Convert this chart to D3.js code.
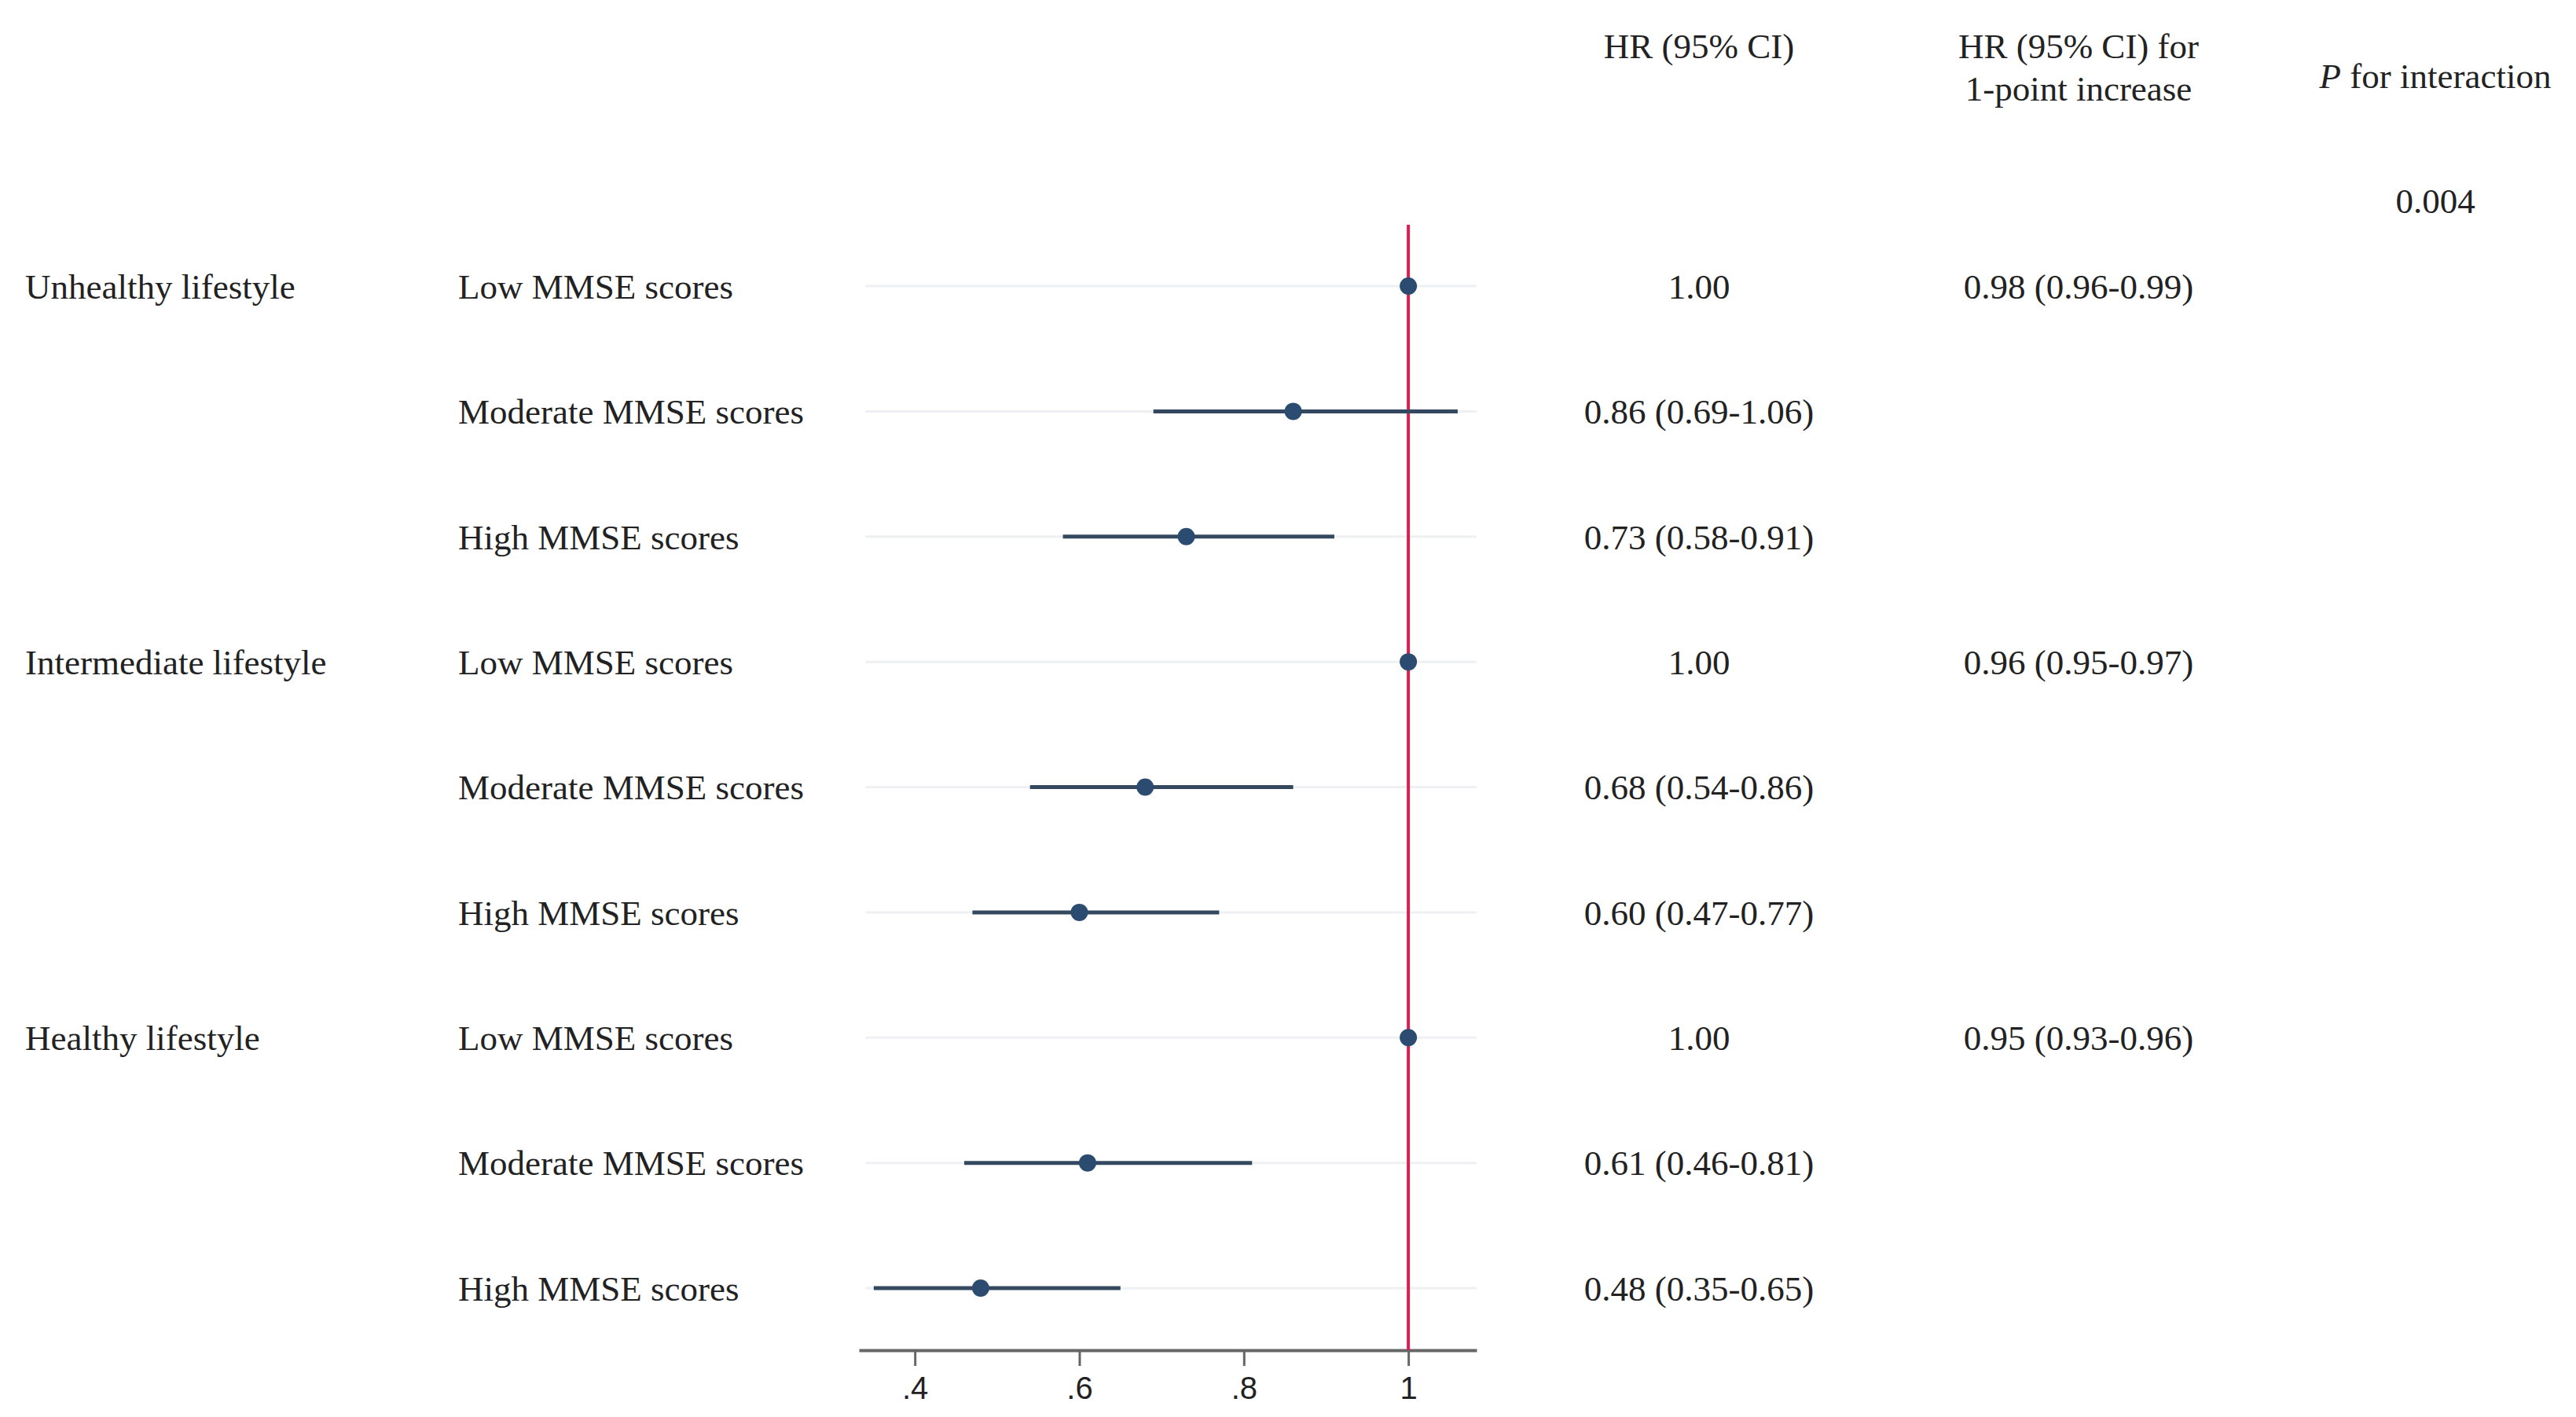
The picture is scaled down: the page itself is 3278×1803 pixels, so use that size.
<!DOCTYPE html>
<html>
<head>
<meta charset="utf-8">
<script src="https://cdn.jsdelivr.net/npm/d3@7"></script>
<style>
  body { margin: 0; background: #fff; }
  text { font-family: "Liberation Serif", "Times New Roman", serif; fill: #222; }
  .tick text { font-family: "Liberation Sans", Arial, sans-serif; }
</style>
</head>
<body>
<div id="forest"></div>
<script>
// rows of the forest plot
var groups = ["Unhealthy lifestyle", "", "", "Intermediate lifestyle", "", "", "Healthy lifestyle", "", ""];
var subgroups = ["Low MMSE scores", "Moderate MMSE scores", "High MMSE scores",
  "Low MMSE scores", "Moderate MMSE scores", "High MMSE scores",
  "Low MMSE scores", "Moderate MMSE scores", "High MMSE scores"];
var hr = [1.00, 0.86, 0.73, 1.00, 0.68, 0.60, 1.00, 0.61, 0.48];
var lower = [1.00, 0.69, 0.58, 1.00, 0.54, 0.47, 1.00, 0.46, 0.35];
var upper = [1.00, 1.06, 0.91, 1.00, 0.86, 0.77, 1.00, 0.81, 0.65];
var hrText = ["1.00", "0.86 (0.69-1.06)", "0.73 (0.58-0.91)",
  "1.00", "0.68 (0.54-0.86)", "0.60 (0.47-0.77)",
  "1.00", "0.61 (0.46-0.81)", "0.48 (0.35-0.65)"];
var trendText = ["0.98 (0.96-0.99)", "", "", "0.96 (0.95-0.97)", "", "", "0.95 (0.93-0.96)", "", ""];
var pInteraction = "0.004";
var xTicks = [0.4, 0.6, 0.8, 1];
var xDomain = [0.332, 1.083];

var width = 3278, height = 1803;

var svg = d3.select("#forest").append("svg")
  .attr("width", width)
  .attr("height", height);

var rowIdx = d3.range(hr.length);

// x scale for hazard ratios, y for rows
var x = d3.scaleLinear().domain(xDomain).range([1093, 1879]);
var y = d3.scalePoint().domain(rowIdx).range([364, 1639]);
var axisY = 1718;

// faint guide line behind each row
svg.selectAll(".guide")
  .data(rowIdx)
  .enter().append("line")
  .attr("class", "guide")
  .attr("x1", x(0.34)).attr("x2", x(1.083))
  .attr("y1", function (d) { return y(d); })
  .attr("y2", function (d) { return y(d); })
  .attr("stroke", "#eef0f3")
  .attr("stroke-width", 3);

// x axis
var axis = svg.append("g")
  .attr("transform", "translate(0," + axisY + ")")
  .call(d3.axisBottom(x).tickValues(xTicks).tickSizeInner(20).tickSizeOuter(0).tickPadding(14)
    .tickFormat(function (d) { return d === 1 ? "1" : d3.format(".1f")(d).replace(/^0/, ""); }));
axis.select(".domain").attr("stroke", "#666").attr("stroke-width", 4);
axis.selectAll(".tick line").attr("stroke", "#666").attr("stroke-width", 3);
axis.selectAll(".tick text").attr("font-size", 40).attr("fill", "#333");

// reference line at 1
svg.append("line")
  .attr("x1", x(1)).attr("x2", x(1))
  .attr("y1", 286).attr("y2", axisY)
  .attr("stroke", "#d4214f")
  .attr("stroke-width", 4);

// confidence intervals
svg.selectAll(".ci")
  .data(rowIdx.filter(function (i) { return upper[i] > lower[i]; }))
  .enter().append("line")
  .attr("class", "ci")
  .attr("x1", function (d) { return x(lower[d]); })
  .attr("x2", function (d) { return x(upper[d]); })
  .attr("y1", function (d) { return y(d); })
  .attr("y2", function (d) { return y(d); })
  .attr("stroke", "#34495f")
  .attr("stroke-width", 5);

// point estimates
svg.selectAll(".pt")
  .data(rowIdx)
  .enter().append("circle")
  .attr("class", "pt")
  .attr("cx", function (d) { return x(hr[d]); })
  .attr("cy", function (d) { return y(d); })
  .attr("r", 11)
  .attr("fill", "#2b4b70");

// text columns
function column(values, xpos, anchor) {
  svg.selectAll(null)
    .data(rowIdx.filter(function (i) { return values[i] !== ""; }))
    .enter().append("text")
    .attr("x", xpos)
    .attr("y", function (d) { return y(d); })
    .attr("dy", "0.35em")
    .attr("font-size", 45)
    .style("text-anchor", anchor)
    .text(function (d) { return values[d]; });
}
column(groups, 32, "start");
column(subgroups, 583, "start");
column(hrText, 2162, "middle");
column(trendText, 2645, "middle");

// headers
var headers = [
  {t: "HR (95% CI)", x: 2162, y: 58},
  {t: "HR (95% CI) for", x: 2645, y: 58},
  {t: "1-point increase", x: 2645, y: 112},
  {t: pInteraction, x: 3099, y: 255}
];
svg.selectAll(".hdr")
  .data(headers)
  .enter().append("text")
  .attr("class", "hdr")
  .attr("x", function (d) { return d.x; })
  .attr("y", function (d) { return d.y; })
  .attr("dy", "0.35em")
  .attr("font-size", 45)
  .style("text-anchor", "middle")
  .text(function (d) { return d.t; });

var pHead = svg.append("text")
  .attr("x", 3099).attr("y", 96)
  .attr("dy", "0.35em")
  .attr("font-size", 45)
  .style("text-anchor", "middle");
pHead.append("tspan").attr("font-style", "italic").text("P");
pHead.append("tspan").text(" for interaction");
</script>
</body>
</html>
